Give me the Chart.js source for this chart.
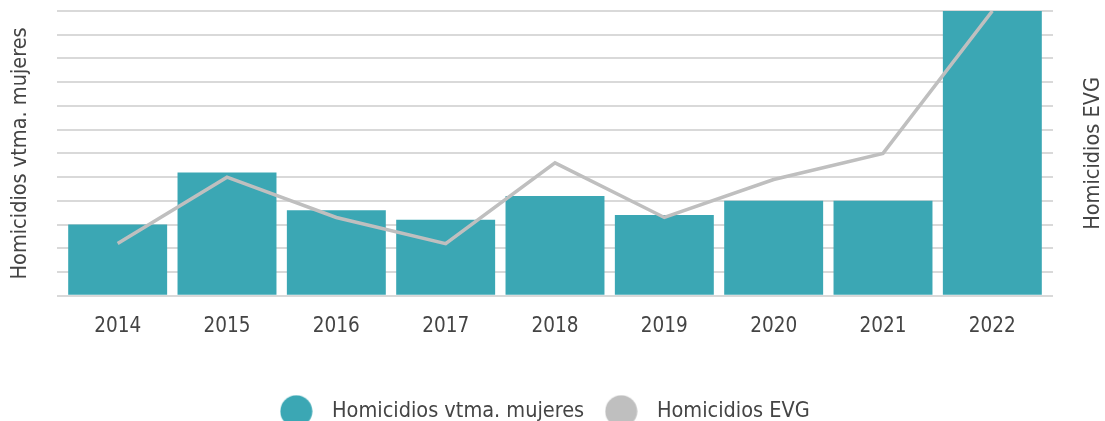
<!DOCTYPE html>
<html>
<head>
<meta charset="utf-8">
<script src="https://cdn.jsdelivr.net/npm/chart.js@4"></script>
<style>
  html, body { margin: 0; padding: 0; background: #fff; overflow: hidden; }
  #wrap { width: 1105px; height: 421px; overflow: hidden; }
</style>
</head>
<body>
<div id="wrap"><canvas id="grafico" width="1105" height="432"></canvas></div>
<script>
const years = ['2014', '2015', '2016', '2017', '2018', '2019', '2020', '2021', '2022'];
const homicidiosMujeres = [15, 26, 18, 16, 21, 17, 20, 20, 60];
const homicidiosEVG = [11, 25, 16.5, 11, 28, 16.5, 24.5, 30, 60];

const fuente = "'DejaVu Sans Condensed', 'DejaVu Sans', sans-serif";
const gris = '#444444';

// circulo de la leyenda, con hueco antes del texto
function marcador(color) {
  const c = document.createElement('canvas');
  c.width = 33;
  c.height = 33;
  const g = c.getContext('2d');
  g.fillStyle = color;
  g.beginPath();
  g.arc(16.5, 16.5, 16, 0, 2 * Math.PI);
  g.fill();
  return c;
}

// el titulo del eje derecho se dibuja girado hacia arriba, como el izquierdo
const tituloDerecho = {
  id: 'tituloDerecho',
  afterLayout(chart) {
    // la leyenda del original va un poco a la izquierda
    chart.legend.right -= 24;
  },
  afterDraw(chart) {
    const s = chart.scales.y1;
    const t = s.options.title;
    const ctx = chart.ctx;
    ctx.save();
    ctx.translate(s.right - 12, (s.top + s.bottom) / 2);
    ctx.rotate(-Math.PI / 2);
    ctx.textAlign = 'center';
    ctx.textBaseline = 'middle';
    ctx.font = '21.5px ' + fuente;
    ctx.fillStyle = gris;
    ctx.fillText(t.text, 0, 0);
    ctx.restore();
  }
};

let grafico = new Chart(document.getElementById('grafico'), {
  data: {
    labels: years,
    datasets: [
      {
        type: 'bar',
        label: 'Homicidios vtma. mujeres',
        data: homicidiosMujeres,
        backgroundColor: '#3BA7B4',
        borderWidth: 0,
        yAxisID: 'y',
        order: 1,
        categoryPercentage: 1,
        barPercentage: 0.905
      },
      {
        type: 'line',
        label: 'Homicidios EVG',
        data: homicidiosEVG,
        borderColor: '#BFBFBF',
        backgroundColor: '#BFBFBF',
        borderWidth: 3.5,
        pointRadius: 0,
        tension: 0,
        yAxisID: 'y1',
        order: 0
      }
    ]
  },
  options: {
    responsive: false,
    animation: false,
    layout: { padding: { top: 11, left: 0, right: 0, bottom: 0 } },
    plugins: {
      tooltip: { enabled: false },
      legend: {
        position: 'bottom',
        reverse: true,
        labels: {
          usePointStyle: true,
          pointStyleWidth: 50,
          boxHeight: 21.5,
          padding: 12,
          color: gris,
          font: { family: fuente, size: 21.5 },
          generateLabels(chart) {
            const items = Chart.defaults.plugins.legend.labels.generateLabels(chart);
            items.forEach(it => { it.pointStyle = marcador(it.fillStyle); });
            return items;
          }
        }
      }
    },
    scales: {
      x: {
        grid: { display: false, drawTicks: false },
        border: { display: false },
        ticks: { color: gris, padding: 18.7, font: { family: fuente, size: 20.5 } },
        afterFit(scale) { scale.height += 30.7; }
      },
      y: {
        position: 'left',
        min: 0,
        max: 60,
        ticks: { display: false, stepSize: 5 },
        grid: { color: '#D9D9D9', lineWidth: 2, tickLength: 6 },
        border: { display: false },
        title: {
          display: true,
          text: 'Homicidios vtma. mujeres',
          color: gris,
          font: { family: fuente, size: 21.5, lineHeight: 1 },
          padding: { top: 10, bottom: 25.5 }
        }
      },
      y1: {
        position: 'right',
        min: 0,
        max: 60,
        ticks: { display: false, stepSize: 5 },
        grid: { color: '#D9D9D9', lineWidth: 2, tickLength: 6, drawOnChartArea: false },
        border: { display: false },
        title: {
          display: true,
          text: 'Homicidios EVG',
          color: 'rgba(0,0,0,0)',
          font: { family: fuente, size: 21.5, lineHeight: 1 },
          padding: { top: 0, bottom: 30.5 }
        }
      }
    }
  },
  plugins: [tituloDerecho]
});
</script>
</body>
</html>
